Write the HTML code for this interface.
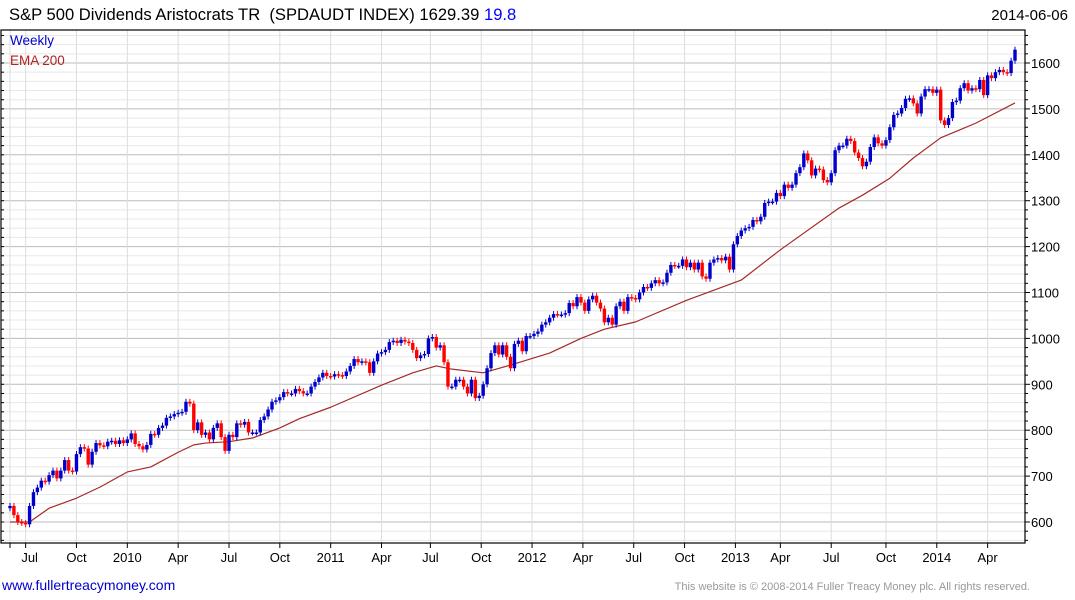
<!DOCTYPE html>
<html><head><meta charset="utf-8"><style>
body{margin:0;background:#fff;width:1075px;height:600px;overflow:hidden;font-family:"Liberation Sans",Arial,sans-serif}
svg{position:absolute;left:0;top:0}
</style></head><body>
<svg id="chart" width="1075" height="600" xmlns="http://www.w3.org/2000/svg">
<text x="9" y="20" font-size="16.6" fill="#000" xml:space="preserve">S&amp;P 500 Dividends Aristocrats TR  (SPDAUDT INDEX) 1629.39 <tspan fill="#0000ff">19.8</tspan></text>
<text x="1068" y="20" font-size="15" text-anchor="end" fill="#000">2014-06-06</text>
<g id="grid"></g><g id="ema"></g><g id="candles"></g><g id="axes"></g>
<text x="10" y="45" font-size="13.5" fill="#0000cc">Weekly</text>
<text x="10" y="65" font-size="13.5" fill="#b22222">EMA 200</text>
<text x="2" y="590" font-size="14" fill="#0000cc">www.fullertreacymoney.com</text>
<text x="1030" y="590" font-size="11" text-anchor="end" fill="#999">This website is © 2008-2014 Fuller Treacy Money plc. All rights reserved.</text>
</svg>
<script>
const closes=[635,615,600,598,595,635,665,675,690,688,702,712,695,712,735,712,710,748,763,760,725,753,772,767,765,775,777,770,778,772,780,793,770,765,758,768,792,790,805,810,827,830,835,838,840,862,858,800,817,790,795,780,805,815,785,755,790,785,815,812,818,795,795,795,822,830,845,862,865,872,
883,880,880,890,885,880,880,895,905,915,925,918,917,922,920,918,928,940,955,948,950,948,925,950,967,970,975,992,995,990,997,993,990,975,957,963,966,1000,1003,980,985,948,895,895,910,910,895,880,910,870,875,900,935,968,985,965,985,960,935,988,995,972,1005,1005,1010,1015,1030,1035,1045,
1053,1052,1052,1055,1077,1070,1090,1078,1060,1085,1093,1078,1065,1035,1045,1030,1070,1080,1060,1090,1088,1085,1100,1112,1110,1120,1127,1120,1122,1143,1160,1158,1158,1172,1155,1165,1150,1165,1135,1130,1165,1172,1175,1170,1178,1150,1205,1223,1235,1240,1243,1258,1255,1265,
1295,1298,1298,1317,1310,1335,1328,1335,1360,1373,1403,1388,1355,1370,1368,1345,1340,1360,1410,1420,1420,1435,1430,1405,1393,1375,1385,1417,1438,1425,1420,1432,1460,1487,1490,1502,1522,1523,1512,1490,1527,1543,1543,1535,1542,1475,1465,1480,1515,1518,1545,1556,1540,1545,1543,1563,1530,1573,1567,1580,1585,1580,1578,1605,1629];
const firstOpen=630;
const emaIdx=[0,5,10,17,23,30,36,43,47,50,56,62,69,74,82,95,103,109,113,121,128,138,146,152,160,173,180,187,197,212,218,225,231,238,247,257];
const emaVals=[600,600,630,652,676,709,720,752,768,772,775,783,805,825,850,898,925,940,933,925,942,968,1000,1020,1036,1083,1105,1127,1193,1284,1312,1349,1393,1437,1469,1513];
const yTicks=[600,700,800,900,1000,1100,1200,1300,1400,1500,1600];
const xTickLabels=["","Jul","Oct","2010","Apr","Jul","Oct","2011","Apr","Jul","Oct","2012","Apr","Jul","Oct","2013","Apr","Jul","Oct","2014","Apr"];
const xTickWeeks=[0,4,17,30,43,56,69,82,95,107.5,120.5,133.5,146.5,159.5,172.5,185.5,197,210,224,237,250];

const NS="http://www.w3.org/2000/svg";
const L=1,R=1025,T=30,B=543;
const n=closes.length;
function X(i){return 10+i*(1005/(n-1));}
function Y(v){return 522-(v-600)*0.459;}
function mk(tag,attrs,parent){const e=document.createElementNS(NS,tag);for(const k in attrs)e.setAttribute(k,attrs[k]);parent.appendChild(e);return e;}
const grid=document.getElementById('grid'),axes=document.getElementById('axes'),cg=document.getElementById('candles'),eg=document.getElementById('ema');
for(let v=540;v<=1660;v+=20){const y=Y(v);if(y<T||y>B)continue;const major=v%100===0;
 const l=mk('line',{x1:L,x2:R,y1:y,y2:y,stroke:major?'#bbbbbb':'#e8e8e8','stroke-width':1},grid);
 
 
 const t=mk('line',{x1:R,x2:R+(major?5:3),y1:y,y2:y,stroke:'#000'},axes);
 
 
 const t2=mk('line',{x1:L,x2:L+3,y1:y,y2:y,stroke:'#000'},axes);
 
 }
yTicks.forEach(v=>{const t=mk('text',{x:1031,y:Y(v)+5,'font-size':13,fill:'#000'},axes);t.textContent=v;
 
 });
xTickWeeks.forEach((w,k)=>{const x=X(w);
 const g=mk('line',{x1:x,x2:x,y1:T,y2:B,stroke:'#dddddd'},grid);
 
 
 const t=mk('line',{x1:x,x2:x,y1:B,y2:B+5,stroke:'#000'},axes);
 
 
 if(xTickLabels[k]){const lb=mk('text',{x:x+(k===1?4:0),y:B+19,'font-size':13,'text-anchor':'middle',fill:'#000'},axes);lb.textContent=xTickLabels[k];
 
 }});
const frame=mk('rect',{x:L,y:T,width:R-L,height:B-T,fill:'none',stroke:'#000','stroke-width':1.2},axes);


const pts=emaIdx.map((i,k)=>X(i)+','+Y(emaVals[k])).join(' ');
const pl=mk('polyline',{points:pts,fill:'none',stroke:'#a52a2a','stroke-width':1.2,'stroke-linejoin':'round'},eg);


closes.forEach((c,i)=>{const o=i===0?firstOpen:closes[i-1];const up=c>=o;const col=up?'#0000cc':'#ff0000';
 const x=X(i);const top=Y(Math.max(o,c)),bot=Y(Math.min(o,c));
 const g=mk('g',{},cg);
 
 
 mk('line',{x1:x,x2:x,y1:top-3,y2:bot+3,stroke:col,'stroke-width':1},g);
 mk('rect',{x:x-1.7,y:top,width:3.4,height:Math.max(1.5,bot-top),fill:col},g);});
</script>
</body></html>
